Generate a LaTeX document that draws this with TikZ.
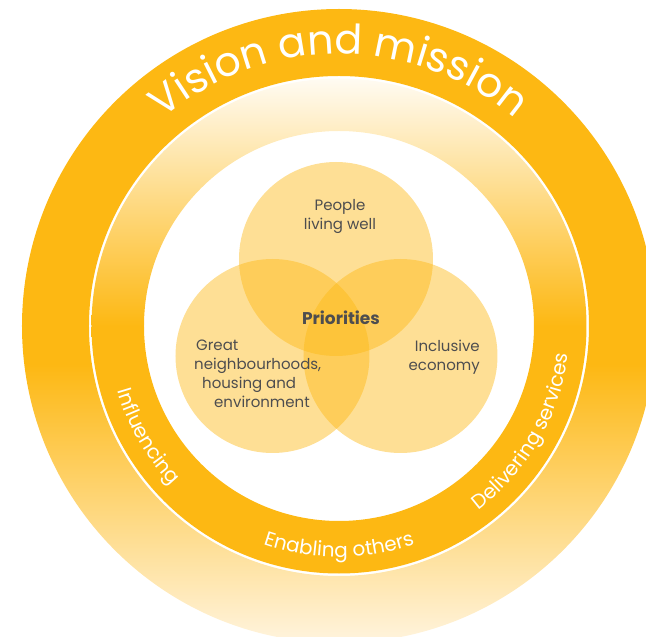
\documentclass[tikz,border=0pt]{standalone}
\usepackage{fontspec}
\setmainfont{Poppins}
\usetikzlibrary{decorations.text}

\definecolor{ringorange}{RGB}{253,184,19}
\definecolor{ringpale}{RGB}{255,244,222}
\definecolor{ringwhite}{RGB}{255,251,242}
\definecolor{textgrey}{RGB}{77,77,79}

% outer ring fades out towards the bottom, inner ring towards the top
\pgfdeclareverticalshading{outerfade}{100bp}{color(0bp)=(ringpale); color(25bp)=(ringpale);
  color(47bp)=(ringorange); color(100bp)=(ringorange)}
\pgfdeclareverticalshading{innerfade}{100bp}{color(0bp)=(ringorange); color(50bp)=(ringorange);
  color(75bp)=(ringwhite); color(100bp)=(ringwhite)}

\begin{document}
\begin{tikzpicture}[x=1pt,y=1pt,
    venn/.style={circle,fill=ringorange,fill opacity=0.45,minimum
        size=194pt,inner sep=0pt},
    caption/.style={text=textgrey,font=\fontsize{15}{19}\selectfont,inner sep=0pt},
    ringtext/.style={decorate,decoration={text along path,text align=center,
        text color=white}}]

    \clip (-339,-311) rectangle (307,326);

    % the rings

    \shade[shading=outerfade,even odd rule] (0,0) circle[radius=317]
    circle[radius=250];
    \shade[shading=innerfade,even odd rule] (0,0) circle[radius=247.5]
    circle[radius=195];

    \path[ringtext,decoration={text={|\fontsize{41}{41}\selectfont|Vision and mission}}]
    (135:272) arc[start angle=135,end angle=45,radius=272];
    \path[ringtext,decoration={text={|\fontsize{20}{20}\selectfont|Influencing}}]
    (180:231) arc[start angle=180,end angle=240,radius=231];
    \path[ringtext,decoration={text={|\fontsize{20}{20}\selectfont|Enabling others}}]
    (235:231) arc[start angle=235,end angle=305,radius=231];
    \path[ringtext,decoration={text={|\fontsize{20}{20}\selectfont|Delivering services}}]
    (290:231) arc[start angle=290,end angle=370,radius=231];

    % the priorities

    \node[venn] (living) at (-3,67) {};
    \node[venn] (places) at (-66.5,-30) {};
    \node[venn] (economy) at (61.5,-30) {};

    \node[caption,align=center] (peopletext) at (1,110) {People\\living well};
    \node[caption,font=\fontsize{17}{19}\selectfont\bfseries] (priorities) at (2,8)
    {Priorities};
    \node[caption,align=left,anchor=north west] (placestext) at (-145,-14)
    {\hspace*{2pt}Great\\neighbourhoods,\\\hspace*{8pt}housing and\\\hspace*{20pt}environment};
    \node[caption,align=right,anchor=north east] (economytext) at (141,-14)
    {Inclusive\\economy};
\end{tikzpicture}
\end{document}
